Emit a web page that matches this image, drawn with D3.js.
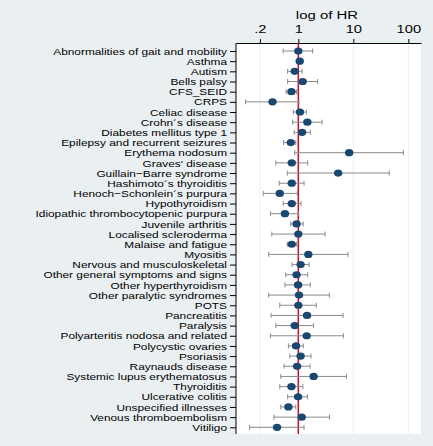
<!DOCTYPE html>
<html><head><meta charset="utf-8">
<script src="https://cdn.jsdelivr.net/npm/d3@7"></script>
<style>body{margin:0;background:#eaf0f2}svg{display:block}</style>
</head><body><svg id="c" width="433" height="446"></svg>
<script>
const categories = ["Abnormalities of gait and mobility","Asthma","Autism","Bells palsy","CFS_SEID","CRPS","Celiac disease","Crohn\u00b4s disease","Diabetes mellitus type 1","Epilepsy and recurrent seizures","Erythema nodosum","Graves' disease","Guillain\u2212Barre syndrome","Hashimoto\u00b4s thyroiditis","Henoch\u2212Schonlein\u00b4s purpura","Hypothyroidism","Idiopathic thrombocytopenic purpura","Juvenile arthritis","Localised scleroderma","Malaise and fatigue","Myositis","Nervous and musculoskeletal","Other general symptoms and signs","Other hyperthyroidism","Other paralytic syndromes","POTS","Pancreatitis","Paralysis","Polyarteritis nodosa and related","Polycystic ovaries","Psoriasis","Raynauds disease","Systemic lupus erythematosus","Thyroiditis","Ulcerative colitis","Unspecified illnesses","Venous thromboembolism","Vitiligo"];
const hr    = [1.0,1.06,0.86,1.2,0.75,0.34,1.07,1.46,1.17,0.73,8.4,0.76,5.3,0.76,0.46,0.76,0.57,0.93,1.0,0.76,1.52,1.1,0.93,0.99,1.03,1.0,1.44,0.86,1.42,0.91,1.1,0.95,1.9,0.75,0.99,0.66,1.15,0.41];
const lower = [0.53,0.98,0.64,0.64,0.6,0.11,0.81,0.79,0.84,0.54,0.86,0.39,0.63,0.45,0.23,0.53,0.31,0.73,0.33,0.63,0.29,0.77,0.59,0.57,0.29,0.46,0.32,0.39,0.31,0.66,0.7,0.55,0.48,0.46,0.64,0.48,0.36,0.13];
const upper = [1.82,1.15,1.17,2.25,0.93,1.03,1.4,2.7,1.65,0.9,81,1.48,45,1.27,0.96,1.12,1.0,1.23,3.06,0.93,8.0,1.57,1.48,1.65,3.66,2.12,6.5,1.9,6.6,1.23,1.7,1.63,7.5,1.21,1.46,0.9,3.7,1.27];
const tickValues = [0.2,1,10,100];
const tickLabels = [".2","1","10","100"];
const axisTitle = "log of HR";

const FONT = "Liberation Sans, Arial, Helvetica, sans-serif";
const svg = d3.select("#c");
const L=236, R=421, T=43, B=434;
svg.append("rect").attr("x",L).attr("y",T).attr("width",R-L).attr("height",B-T).attr("fill","#ffffff");

const x = d3.scaleLog().domain([0.0736,170]).range([L,R]);
const y = d3.scalePoint().domain(categories).range([51,427.3]);

// gridlines
svg.append("g").selectAll("line").data(tickValues).join("line")
  .attr("x1",d=>x(d)).attr("x2",d=>x(d)).attr("y1",T).attr("y2",B)
  .attr("stroke","#eaf0f2").attr("stroke-width",1);

// top axis
const xa = svg.append("g").attr("transform",`translate(0,${T})`)
  .call(d3.axisTop(x).tickValues(tickValues).tickFormat((d,i)=>tickLabels[i]).tickSize(4).tickSizeOuter(0).tickPadding(6));
xa.select(".domain").attr("stroke","#000");
xa.selectAll(".tick text").attr("font-family",FONT).attr("font-size",11.3).attr("fill","#000")
  .attr("dy",null).attr("transform","scale(1.3,1)");
svg.append("text").attr("transform",`translate(${(L+R)/2-1.5},19) scale(1.3,1)`).attr("text-anchor","middle")
  .attr("font-family",FONT).attr("font-size",11.5).text(axisTitle);

// left axis
const ya = svg.append("g").attr("transform",`translate(${L},0)`)
  .call(d3.axisLeft(y).tickSize(6).tickSizeOuter(0));
ya.select(".domain").attr("stroke","#000").attr("d",`M0,${T}V${B}`);
const SX = 1.21;
ya.selectAll(".tick text").attr("font-family",FONT).attr("font-size",9.8).attr("fill","#000")
  .attr("x",-9/SX).attr("transform",`scale(${SX},1)`);

// red reference line
svg.append("line").attr("x1",x(1)).attr("x2",x(1)).attr("y1",T).attr("y2",B)
  .attr("stroke","#c8102e").attr("stroke-width",1.5);

const rows = categories.map((c,i)=>({c,hr:hr[i],lo:lower[i],hi:upper[i]}));
const g = svg.append("g");
const ci = g.selectAll("g.ci").data(rows).join("g").attr("class","ci").attr("stroke","#8a8a8a").attr("stroke-width",1);
ci.append("line").attr("x1",d=>x(d.lo)).attr("x2",d=>x(d.hi)).attr("y1",d=>y(d.c)).attr("y2",d=>y(d.c));
ci.append("line").attr("x1",d=>x(d.lo)).attr("x2",d=>x(d.lo)).attr("y1",d=>y(d.c)-2.5).attr("y2",d=>y(d.c)+2.5);
ci.append("line").attr("x1",d=>x(d.hi)).attr("x2",d=>x(d.hi)).attr("y1",d=>y(d.c)-2.5).attr("y2",d=>y(d.c)+2.5);

g.selectAll("ellipse").data(rows).join("ellipse")
  .attr("cx",d=>x(d.hr)).attr("cy",d=>y(d.c)).attr("rx",4.2).attr("ry",3.6)
  .attr("fill","#1a476f");
</script></body></html>
